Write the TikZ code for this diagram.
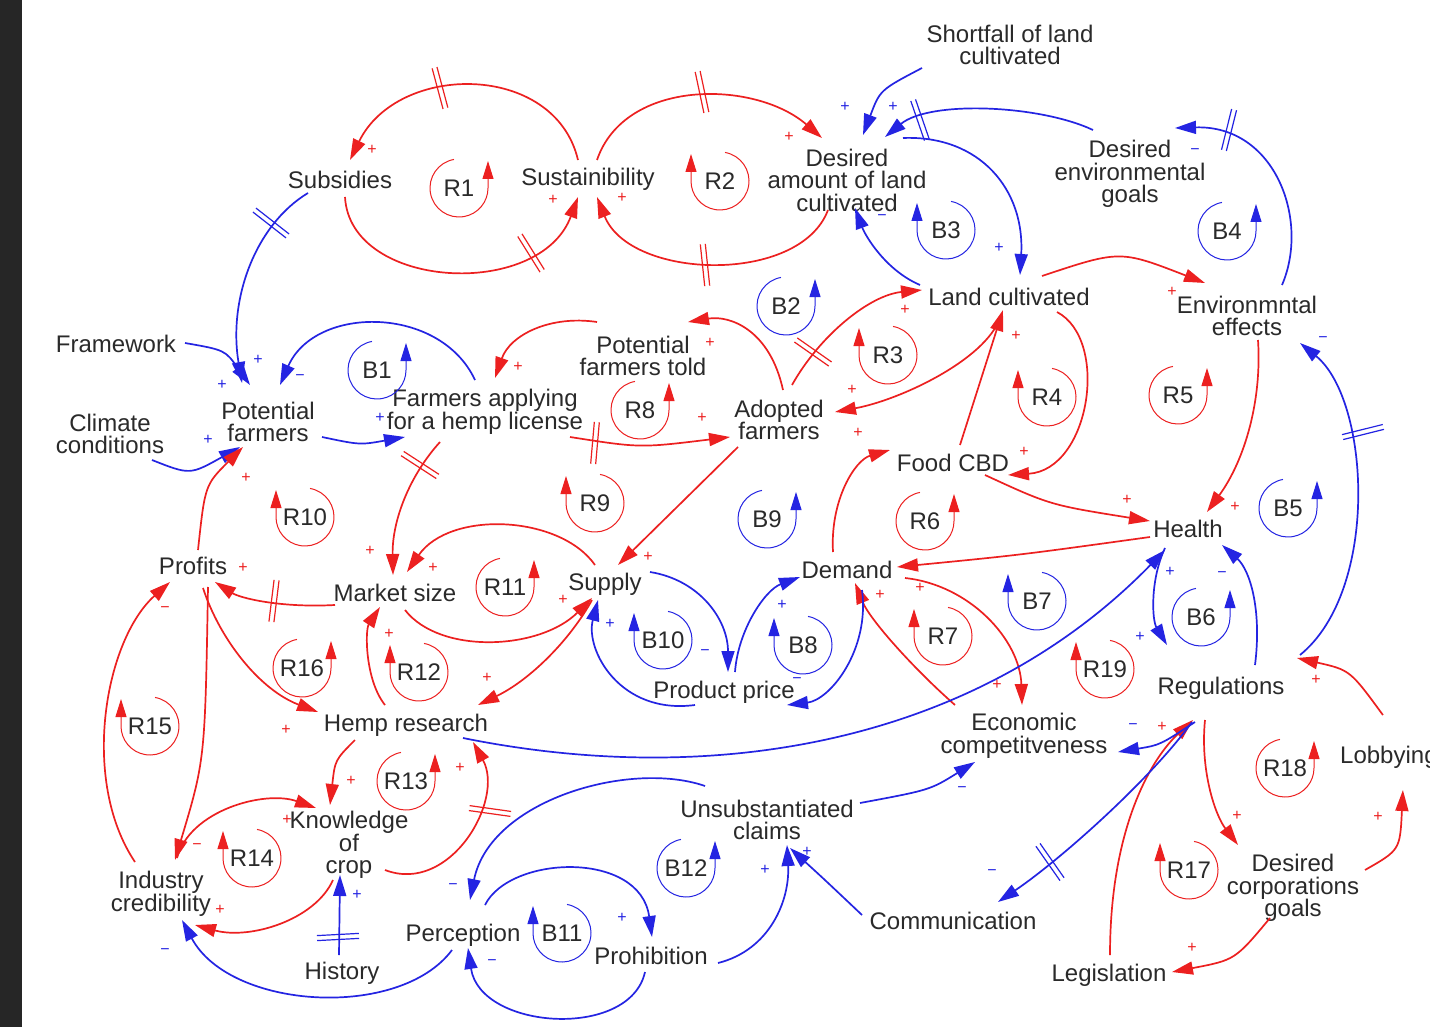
\documentclass[tikz,border=0pt]{standalone}
\usepackage{fontspec}
\setmainfont{Liberation Sans}
\usetikzlibrary{arrows.meta,calc}
\definecolor{cr}{RGB}{236,32,32}
\definecolor{cb}{RGB}{36,36,226}
\definecolor{txt}{RGB}{42,42,42}
\definecolor{strip}{RGB}{38,38,38}
\newcounter{sgc}
\newcommand\vfont{\fontsize{24}{22.5}\selectfont}
\newcommand\sfont{\fontsize{16}{16}\selectfont}
\tikzset{
  v/.style={font=\vfont,text=txt,align=center,inner sep=0pt},
  rl/.style={cr,line width=1.7pt,-{Triangle[length=21pt,width=13pt]}},
  bl/.style={cb,line width=1.7pt,-{Triangle[length=21pt,width=13pt]}},
  lpc/.style={line width=1pt,-{Triangle[length=18pt,width=11pt]}},
  dl/.style={line width=1.2pt},
  sg/.style={font=\sfont,inner sep=0pt},
}
% loop marker, arrow on the right side
\newcommand\lpR[4]{%
  \draw[lpc,#4] (#1,#2) ++(260:29) arc[start angle=260,end angle=0,radius=29] -- ++(0,-27);
  \node[v] (lp#3) at (#1,#2) {#3};}
% loop marker, arrow on the left side
\newcommand\lpL[4]{%
  \draw[lpc,#4] (#1,#2) ++(280:29) arc[start angle=280,end angle=540,radius=29] -- ++(0,-27);
  \node[v] (lp#3) at (#1,#2) {#3};}
% polarity sign
\newcommand\sg[4]{\stepcounter{sgc}\edef\sgname{sg\arabic{sgc}}%
  \node[sg,text=#4] (\sgname) at (#1,#2) {#3};}
% delay mark
\newcommand\dly[4]{\begin{scope}[shift={(#1,#2)},rotate=-#3]
  \draw[dl,#4] (-21,2.5) -- (21,2.5) (-21,-2.5) -- (21,-2.5);\end{scope}}
\begin{document}
\begin{tikzpicture}[x=1pt,y=-1pt]
\useasboundingbox (0,0) rectangle (1430,1027);
\clip (0,0) rectangle (1430,1027);
\fill[white] (0,0) rectangle (1430,1027);
\fill[strip] (0,0) rectangle (22,1027);

% variables
\node[v] (shortfall) at (1010,45) {Shortfall of land\\cultivated};
\node[v] (subs) at (340,180) {Subsidies};
\node[v] (sust) at (588,179) {Sustainibility};
\node[v] (desam) at (847,180) {Desired\\amount of land\\cultivated};
\node[v] (desenv) at (1130,174) {Desired\\environmental\\goals};
\node[v] (landc) at (1009,297) {Land cultivated};
\node[v] (envef) at (1247,316) {Environmntal\\effects};
\node[v] (frame) at (116,344) {Framework};
\node[v] (potf) at (268,422) {Potential\\farmers};
\node[v] (clim) at (110,434) {Climate\\conditions};
\node[v] (fapp) at (485,412) {Farmers applying\\for a hemp license};
\node[v] (pft) at (643,356) {Potential\\farmers told};
\node[v] (adopt) at (779,420) {Adopted\\farmers};
\node[v] (food) at (953,463) {Food CBD};
\node[v] (health) at (1188,529) {Health};
\node[v] (profits) at (193,566) {Profits};
\node[v] (msize) at (395,593) {Market size};
\node[v] (supply) at (605,584) {Supply};
\node[v] (demand) at (847,570) {Demand};
\node[v] (pprice) at (724,692) {Product price};
\node[v] (hemp) at (406,725) {Hemp research};
\node[v] (regs) at (1221,688) {Regulations};
\node[v] (econ) at (1024,736) {Economic\\competitveness};
\node[v,anchor=west] (lobby) at (1340,757) {Lobbying};
\node[v] (unsub) at (767,820) {Unsubstantiated\\claims};
\node[v] (know) at (349,845) {Knowledge\\of\\crop};
\node[v] (indcred) at (161,894) {Industry\\credibility};
\node[v] (descorp) at (1293,888) {Desired\\corporations\\goals};
\node[v] (comm) at (953,921) {Communication};
\node[v] (perc) at (463,935) {Perception};
\node[v] (prohib) at (651,956) {Prohibition};
\node[v] (hist) at (342,973) {History};
\node[v] (legis) at (1109,975) {Legislation};

% causal links
\draw[rl] ($(sust)+(-10,-19)$) .. controls (555,62) and (398,62) .. ($(subs)+(10,-20)$);
\draw[rl] ($(subs)+(5,17)$) .. controls (350,290) and (540,300) .. ($(sust)+(-10,18)$);
\draw[rl] ($(sust)+(9,-19)$) .. controls (625,78) and (755,80) .. ($(desam)+(-25,-42)$);
\draw[rl] ($(desam)+(-19,30)$) .. controls (800,285) and (630,280) .. ($(sust)+(9,18)$);
\draw[bl] ($(subs)+(-32,13)$) .. controls (255,225) and (228,300) .. ($(potf)+(-26,-39)$);
\draw[bl] ($(frame)+(69,-1)$) .. controls (225,350) .. ($(potf)+(-18,-37)$);
\draw[bl] ($(clim)+(42,26)$) .. controls (190,475) .. ($(potf)+(-28,25)$);
\draw[rl] ($(profits)+(5,-16)$) .. controls (205,485) .. ($(potf)+(-25,25)$);
\draw[bl] ($(potf)+(54,15)$) .. controls (360,445) .. ($(fapp)+(-80,25)$);
\draw[bl] ($(fapp)+(-10,-32)$) .. controls (440,305) and (315,305) .. ($(potf)+(12,-37)$);
\draw[rl] ($(fapp)+(-45,30)$) .. controls (410,475) and (392,520) .. ($(msize)+(-2,-18)$);
\draw[rl] ($(fapp)+(85,25)$) .. controls (640,448) .. ($(adopt)+(-49,17)$);
\draw[rl] ($(adopt)+(4,-30)$) .. controls (770,330) and (730,315) .. ($(pft)+(45,-34)$);
\draw[rl] ($(pft)+(-46,-34)$) .. controls (550,315) and (510,335) .. ($(fapp)+(10,-34)$);
\draw[rl] ($(adopt)+(13,-35)$) .. controls (820,335) and (870,295) .. ($(landc)+(-87,-7)$);
\draw[rl] ($(landc)+(-9,21)$) .. controls (985,360) and (900,400) .. ($(adopt)+(56,-8)$);
\draw[rl] ($(adopt)+(-41,27)$) -- ($(supply)+(13,-19)$);
\draw[bl] ($(landc)+(-89,-12)$) .. controls (885,270) and (865,235) .. ($(desam)+(8,28)$);
\draw[bl] ($(desam)+(56,-42)$) .. controls (980,135) and (1025,190) .. ($(landc)+(11,-22)$);
\draw[bl] ($(shortfall)+(-88,23)$) .. controls (880,90) .. ($(desam)+(16,-45)$);
\draw[bl] ($(desenv)+(-37,-44)$) .. controls (1040,105) and (930,100) .. ($(desam)+(38,-43)$);
\draw[bl] ($(envef)+(35,-31)$) .. controls (1310,220) and (1275,125) .. ($(desenv)+(45,-46)$);
\draw[rl] ($(landc)+(33,-21)$) .. controls (1120,250) .. ($(envef)+(-42,-33)$);
\draw[rl] ($(landc)+(48,15)$) .. controls (1110,340) and (1090,470) .. ($(food)+(55,12)$);
\draw[rl] ($(food)+(7,-18)$) -- ($(landc)+(-6,13)$);
\draw[rl] ($(food)+(32,12)$) .. controls (1050,505) .. ($(health)+(-38,-8)$);
\draw[rl] ($(envef)+(11,24)$) .. controls (1262,400) and (1245,460) .. ($(health)+(19,-17)$);
\draw[rl] ($(health)+(-38,8)$) .. controls (1020,555) .. ($(demand)+(50,-3)$);
\draw[rl] ($(demand)+(-14,-18)$) .. controls (830,500) and (855,460) .. ($(food)+(-63,-13)$);
\draw[rl] ($(demand)+(58,8)$) .. controls (970,585) and (1020,640) .. ($(econ)+(-2,-31)$);
\draw[rl] ($(econ)+(-69,-31)$) .. controls (915,670) and (870,620) .. ($(demand)+(8,13)$);
\draw[bl] ($(supply)+(45,-12)$) .. controls (700,580) and (728,620) .. ($(pprice)+(4,-20)$);
\draw[bl] ($(pprice)+(11,-20)$) .. controls (738,630) and (765,590) .. ($(demand)+(-47,7)$);
\draw[bl] ($(pprice)+(-29,13)$) .. controls (620,715) and (585,650) .. ($(supply)+(-7,16)$);
\draw[bl] ($(demand)+(15,20)$) .. controls (870,650) and (830,700) .. ($(pprice)+(63,13)$);
\draw[rl] ($(msize)+(-60,12)$) .. controls (280,608) and (240,598) .. ($(profits)+(22,16)$);
\draw[rl] ($(supply)+(-10,-19)$) .. controls (560,515) and (450,510) .. ($(msize)+(12,-21)$);
\draw[rl] ($(msize)+(10,17)$) .. controls (440,655) and (540,650) .. ($(supply)+(-13,14)$);
\draw[rl] ($(profits)+(10,22)$) .. controls (220,640) and (260,690) .. ($(hemp)+(-88,-13)$);
\draw[rl] ($(hemp)+(-21,-20)$) .. controls (365,680) and (365,630) .. ($(msize)+(-15,14)$);
\draw[rl] ($(supply)+(-13,16)$) .. controls (570,640) and (530,680) .. ($(hemp)+(72,-20)$);
\draw[rl] ($(hemp)+(-51,15)$) .. controls (335,760) .. ($(know)+(-19,-40)$);
\draw[rl] ($(know)+(36,25)$) .. controls (450,895) and (505,800) .. ($(hemp)+(67,17)$);
\draw[rl] ($(know)+(-16,35)$) .. controls (315,920) and (250,940) .. ($(indcred)+(34,31)$);
\draw[rl] ($(indcred)+(16,-36)$) .. controls (190,810) and (265,790) .. ($(know)+(-33,-37)$);
\draw[rl] ($(profits)+(15,21)$) .. controls (205,760) .. ($(indcred)+(14,-34)$);
\draw[rl] ($(indcred)+(-26,-32)$) .. controls (80,780) and (105,640) .. ($(profits)+(-23,16)$);
\draw[bl] ($(hist)+(-3,-18)$) -- ($(know)+(-9,30)$);
\draw[bl] ($(perc)+(-11,15)$) .. controls (400,1020) and (230,1010) .. ($(indcred)+(21,26)$);
\draw[bl] ($(hemp)+(57,13)$) .. controls (720,790) and (980,740) .. ($(health)+(-23,21)$);
\draw[bl] ($(health)+(-23,19)$) .. controls (1150,580) and (1152,620) .. ($(regs)+(-54,-43)$);
\draw[bl] ($(regs)+(34,-23)$) .. controls (1262,610) and (1250,570) .. ($(health)+(34,16)$);
\draw[bl] ($(regs)+(79,-33)$) .. controls (1380,590) and (1370,400) .. ($(envef)+(53,27)$);
\draw[rl] ($(lobby)+(-6,-42)$) .. controls (1350,670) .. ($(regs)+(76,-30)$);
\draw[rl] ($(descorp)+(72,-18)$) .. controls (1400,850) .. ($(lobby)+(14,33)$);
\draw[rl] ($(regs)+(-16,32)$) .. controls (1200,770) and (1215,815) .. ($(descorp)+(-55,-43)$);
\draw[rl] ($(descorp)+(-23,30)$) .. controls (1235,960) .. ($(legis)+(63,-3)$);
\draw[rl] ($(legis)+(1,-20)$) .. controls (1110,830) and (1150,760) .. ($(regs)+(-28,32)$);
\draw[bl] ($(regs)+(-26,34)$) .. controls (1160,745) .. ($(econ)+(94,16)$);
\draw[bl] ($(regs)+(-29,34)$) .. controls (1150,780) and (1060,860) .. ($(comm)+(45,-19)$);
\draw[bl] ($(unsub)+(93,-17)$) .. controls (930,790) .. ($(econ)+(-49,26)$);
\draw[bl] ($(unsub)+(-62,-34)$) .. controls (630,760) and (490,800) .. ($(perc)+(7,-35)$);
\draw[bl] ($(perc)+(22,-30)$) .. controls (510,855) and (640,850) .. ($(prohib)+(1,-19)$);
\draw[bl] ($(prohib)+(-6,16)$) .. controls (630,1040) and (480,1030) .. ($(perc)+(5,13)$);
\draw[bl] ($(prohib)+(67,7)$) .. controls (770,950) and (790,900) .. ($(unsub)+(20,25)$);
\draw[bl] ($(comm)+(-91,-6)$) .. controls (825,880) .. ($(unsub)+(23,28)$);

% delays
\dly{440}{88}{75}{cr}
\dly{531}{253}{58}{cr}
\dly{702}{92}{78}{cr}
\dly{705}{265}{84}{cr}
\dly{271}{223}{38}{cb}
\dly{920}{120}{71}{cb}
\dly{1229}{130}{104}{cb}
\dly{420}{465}{33}{cr}
\dly{595}{443}{95}{cr}
\dly{813}{352}{35}{cr}
\dly{274}{601}{97}{cr}
\dly{490}{811}{8}{cr}
\dly{338}{937}{177}{cb}
\dly{1363}{432}{166}{cb}
\dly{1050}{862}{55}{cb}

% polarities
\sg{845}{107}{+}{cb}\sg{893}{107}{+}{cb}\sg{999}{248}{+}{cb}\sg{882}{218}{−}{cb}
\sg{1195}{152}{−}{cb}\sg{258}{360}{+}{cb}\sg{222}{385}{+}{cb}\sg{208}{440}{+}{cb}
\sg{380}{418}{+}{cb}\sg{300}{378}{−}{cb}\sg{705}{653}{−}{cb}\sg{782}{605}{+}{cb}
\sg{610}{624}{+}{cb}\sg{797}{681}{−}{cb}\sg{357}{895}{+}{cb}\sg{165}{952}{−}{cb}
\sg{1170}{572}{+}{cb}\sg{1140}{637}{+}{cb}\sg{1222}{575}{−}{cb}\sg{1323}{340}{−}{cb}
\sg{1133}{727}{−}{cb}\sg{992}{873}{−}{cb}\sg{962}{790}{−}{cb}\sg{453}{887}{−}{cb}
\sg{622}{918}{+}{cb}\sg{492}{963}{−}{cb}\sg{765}{870}{+}{cb}\sg{807}{852}{+}{cb}
\sg{372}{150}{+}{cr}\sg{553}{200}{+}{cr}\sg{622}{198}{+}{cr}\sg{789}{137}{+}{cr}
\sg{246}{478}{+}{cr}\sg{370}{551}{+}{cr}\sg{433}{568}{+}{cr}\sg{563}{600}{+}{cr}
\sg{702}{418}{+}{cr}\sg{710}{343}{+}{cr}\sg{518}{367}{+}{cr}\sg{905}{310}{+}{cr}
\sg{852}{390}{+}{cr}\sg{648}{557}{+}{cr}\sg{1172}{292}{+}{cr}\sg{1024}{452}{+}{cr}
\sg{1016}{336}{+}{cr}\sg{1127}{500}{+}{cr}\sg{1235}{507}{+}{cr}\sg{920}{588}{+}{cr}
\sg{880}{595}{+}{cr}\sg{858}{433}{+}{cr}\sg{997}{685}{+}{cr}\sg{243}{568}{+}{cr}
\sg{286}{730}{+}{cr}\sg{389}{634}{+}{cr}\sg{487}{678}{+}{cr}\sg{351}{781}{+}{cr}
\sg{460}{768}{+}{cr}\sg{220}{910}{+}{cr}\sg{287}{820}{+}{cr}\sg{197}{847}{−}{cr}
\sg{165}{610}{−}{cr}\sg{1316}{680}{+}{cr}\sg{1378}{817}{+}{cr}\sg{1237}{816}{+}{cr}
\sg{1192}{948}{+}{cr}\sg{1162}{727}{+}{cr}

% loop identifiers
\lpR{459}{188}{R1}{cr}
\lpL{720}{181}{R2}{cr}
\lpL{946}{230}{B3}{cb}
\lpR{1227}{231}{B4}{cb}
\lpR{786}{306}{B2}{cb}
\lpL{888}{355}{R3}{cr}
\lpR{377}{370}{B1}{cb}
\lpR{640}{410}{R8}{cr}
\lpL{1047}{397}{R4}{cr}
\lpR{1178}{395}{R5}{cr}
\lpL{595}{503}{R9}{cr}
\lpL{305}{517}{R10}{cr}
\lpR{767}{519}{B9}{cb}
\lpR{925}{521}{R6}{cr}
\lpR{1288}{508}{B5}{cb}
\lpR{505}{587}{R11}{cr}
\lpL{663}{640}{B10}{cb}
\lpL{803}{645}{B8}{cb}
\lpL{943}{636}{R7}{cr}
\lpL{1037}{601}{B7}{cb}
\lpR{1201}{617}{B6}{cb}
\lpR{302}{668}{R16}{cr}
\lpL{419}{672}{R12}{cr}
\lpL{1105}{669}{R19}{cr}
\lpL{150}{726}{R15}{cr}
\lpR{406}{781}{R13}{cr}
\lpR{1285}{768}{R18}{cr}
\lpL{252}{858}{R14}{cr}
\lpR{686}{868}{B12}{cb}
\lpL{1189}{870}{R17}{cr}
\lpL{562}{933}{B11}{cb}
\end{tikzpicture}
\end{document}
